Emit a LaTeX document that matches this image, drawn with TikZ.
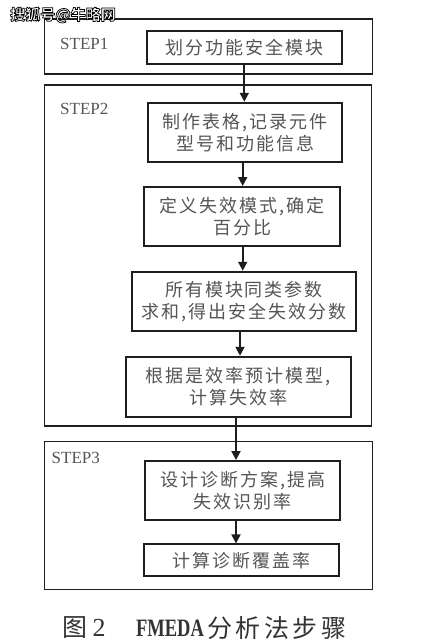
\documentclass[tikz,border=0pt]{standalone}
\usepackage{fontspec}
\setmainfont{Liberation Serif}
\newfontfamily\cjk{Noto Sans CJK SC}[LetterSpace=11]
\newfontfamily\cjkcap{Noto Sans CJK SC}[LetterSpace=14]
\newfontfamily\cjkwm{Noto Sans CJK SC}
\usetikzlibrary{arrows.meta}
\definecolor{txt}{HTML}{555555}
\definecolor{ln}{HTML}{1E1E1E}
\definecolor{cap}{HTML}{333333}
\newcommand{\outlinetext}[1]{\special{pdf:literal direct 2 Tr 0.75 w 0 G}#1\special{pdf:literal direct 0 Tr}}
\tikzset{
  outer/.style={draw=ln,line width=1.4pt,rectangle,inner sep=0pt},
  inner/.style={draw=ln,line width=1.9pt,rectangle,inner sep=0pt,text=txt,align=center,
     font=\cjk\fontsize{18}{22}\selectfont},
  steplbl/.style={text=txt,font=\fontsize{17}{20}\selectfont,inner sep=0pt,anchor=west},
  arr/.style={draw=ln,line width=1.8pt,-{Triangle[length=9pt,width=9pt]}},
  captext/.style={text=cap,inner sep=0pt},
}
\begin{document}
\begin{tikzpicture}[x=1pt,y=-1pt]
\useasboundingbox[fill=white] (0,0) rectangle (424,642);
% outer step frames
\node[outer,minimum width=328pt,minimum height=55pt] (o1) at (208.3,46.5) {};
\node[outer,minimum width=327.4pt,minimum height=341pt] (o2) at (208,255.5) {};
\node[outer,minimum width=328pt,minimum height=147.6pt] (o3) at (208.3,515.5) {};
\node[steplbl] (s1) at (60,44) {STEP1};
\node[steplbl] (s2) at (60,109) {STEP2};
\node[steplbl] (s3) at (51.5,458) {STEP3};
% inner boxes
\node[inner,minimum width=195.3pt,minimum height=33pt,line width=2.2pt] (b1) at (244.7,47.5) {划分功能安全模块};
\node[inner,minimum width=194.3pt,minimum height=59.6pt] (b2) at (245.2,132.5) {制作表格,记录元件\\型号和功能信息};
\node[inner,minimum width=195.7pt,minimum height=59pt] (b3) at (242.2,216.5) {定义失效模式,确定\\百分比};
\node[inner,minimum width=223.4pt,minimum height=59pt] (b4) at (244,301.2) {所有模块同类参数\\求和,得出安全失效分数};
\node[inner,minimum width=224.7pt,minimum height=60pt] (b5) at (238.4,386.7) {根据是效率预计模型,\\计算失效率};
\node[inner,minimum width=194.7pt,minimum height=59pt] (b6) at (242.7,490.5) {设计诊断方案,提高\\失效识别率};
\node[inner,minimum width=195pt,minimum height=31.7pt] (b7) at (241.8,560.2) {计算诊断覆盖率};
% arrow x positions
\coordinate (x1) at (244.3,0);
\coordinate (x2) at (242.7,0);
\coordinate (x4) at (240,0);
\coordinate (x5) at (236,0);
\draw[arr] (b1.south -| x1) -- (b2.north -| x1);
\draw[arr] (b2.south -| x2) -- (b3.north -| x2);
\draw[arr] (b3.south -| x2) -- (b4.north -| x2);
\draw[arr] (b4.south -| x4) -- (b5.north -| x4);
\draw[arr] (b5.south -| x5) -- (b6.north -| x5);
\draw[arr] (b6.south -| x5) -- (b7.north -| x5);
% caption
\node[captext,font=\cjkcap\fontsize{25}{28}\selectfont] (c1) at (75,628) {图};
\node[captext,font=\fontsize{26}{28}\selectfont] (c2) at (99,628) {2};
\node[captext,font=\bfseries\fontsize{25}{28}\selectfont,xscale=0.74] (c3) at (170,628) {FMEDA};
\node[captext,font=\cjkcap\fontsize{25}{28}\selectfont,anchor=west] (c4) at (207,628) {分析法步骤};
% watermark
\node[font=\cjkwm\bfseries\fontsize{15}{16}\selectfont,inner sep=0pt,anchor=west,text=white] (wm) at (10,15) {\outlinetext{搜狐号@牛略网}};
\end{tikzpicture}
\end{document}
